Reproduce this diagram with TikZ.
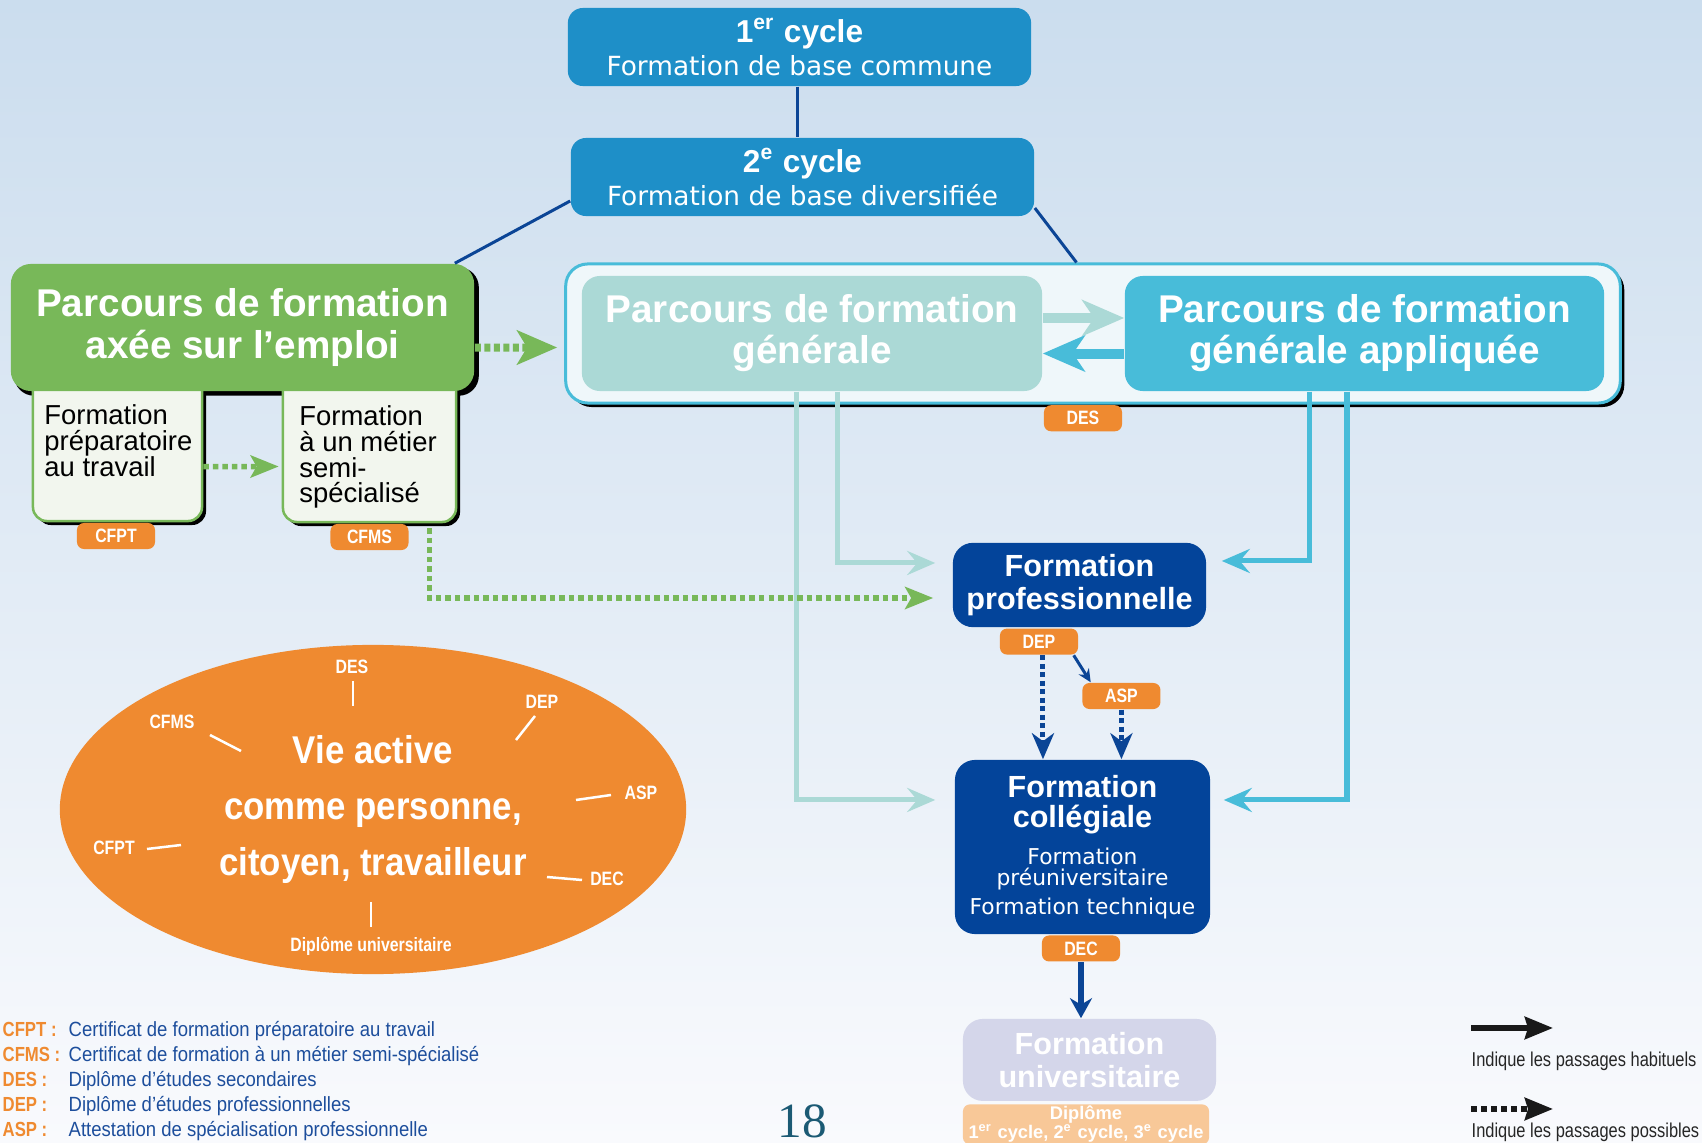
\documentclass[tikz,border=0pt]{standalone}
\usepackage{fontspec}
\setmainfont{Liberation Sans}
\newfontfamily\widefont{DejaVu Sans}
\newfontfamily\narrowfont{Liberation Sans}[FakeStretch=0.82]
\newfontfamily\semicond{Liberation Sans}[FakeStretch=0.9]
\newfontfamily\pagefont{Liberation Serif}
\usetikzlibrary{positioning, shapes.geometric, shadows, arrows.meta}

\definecolor{bgtop}{HTML}{CBDDEE}
\definecolor{bgbot}{HTML}{F9FAFD}
\definecolor{cyclec}{HTML}{1E8FC8}
\definecolor{navy}{HTML}{0B4596}
\definecolor{navybox}{HTML}{03449A}
\definecolor{grn}{HTML}{78B859}
\definecolor{grnpale}{HTML}{F2F6EE}
\definecolor{genc}{HTML}{ABD9D6}
\definecolor{applc}{HTML}{48BCD9}
\definecolor{contc}{HTML}{EFF7FA}
\definecolor{orng}{HTML}{EF8A30}
\definecolor{univc}{HTML}{D4D6EA}
\definecolor{diplc}{HTML}{F8C898}
\definecolor{legblue}{HTML}{1D4E9C}
\definecolor{pagec}{HTML}{1B5A74}

\pgfdeclarelayer{bg}
\pgfdeclarelayer{lower}
\pgfsetlayers{bg,lower,main}

\newcommand{\subtext}[2]{\parbox[c][1.49cm][t]{#1}{\vspace*{0.33cm}\raggedright #2}}
\newcommand{\ttl}{\normalfont\bfseries\fontsize{8.7}{9}\selectfont}

\begin{document}
\begin{tikzpicture}[x=0.01cm, y=-0.01cm, >=Stealth,
    line/.style={draw=navy, line width=0.03cm},
    spoke/.style={draw=white, line width=0.025cm},
    shadowed/.style={drop shadow={shadow xshift=0.04cm, shadow yshift=-0.04cm, fill=black, opacity=1}}]
    % Define styles for boxes, badges, flows and legend
    \tikzstyle{cyclebox} = [rectangle, rounded corners=0.15cm, fill=cyclec, text=white, minimum width=4.63cm, minimum height=0.78cm, inner sep=0pt, align=center, font={\widefont\fontsize{7.5}{9.4}\selectfont}]
    \tikzstyle{greenbox} = [rectangle, rounded corners=0.2cm, fill=grn, text=white, minimum width=4.63cm, minimum height=1.27cm, align=center, font={\bfseries\fontsize{11}{11.7}\selectfont}]
    \tikzstyle{subbox} = [rectangle, rounded corners=0.14cm, fill=grnpale, draw=grn, line width=0.025cm, inner sep=0pt, font={\fontsize{7.8}{7.3}\selectfont}, shadowed]
    \tikzstyle{pathbox} = [rectangle, rounded corners=0.18cm, text=white, minimum height=1.15cm, align=center, font={\bfseries\fontsize{11}{11.7}\selectfont}]
    \tikzstyle{darkbox} = [rectangle, rounded corners=0.2cm, fill=navybox, text=white, minimum width=2.53cm, align=center, font={\bfseries\fontsize{8.7}{9.2}\selectfont}]
    \tikzstyle{badge} = [rectangle, rounded corners=0.07cm, fill=orng, text=white, minimum width=0.78cm, minimum height=0.26cm, inner sep=0pt, font={\narrowfont\bfseries\fontsize{5.5}{6}\selectfont}]
    \tikzstyle{olabel} = [text=white, inner sep=0pt, font={\narrowfont\bfseries\fontsize{5.5}{6}\selectfont}]
    \tikzstyle{legabbr} = [anchor=base west, inner sep=0pt, text=orng, font={\narrowfont\bfseries\fontsize{5.8}{6}\selectfont}]
    \tikzstyle{legtext} = [anchor=base west, inner sep=0pt, font={\semicond\fontsize{5.85}{6}\selectfont}]
    \tikzstyle{paleflow} = [draw=genc, line width=0.05cm, -{Stealth[length=0.28cm, width=0.24cm, inset=0.1cm]}]
    \tikzstyle{blueflow} = [draw=applc, line width=0.05cm, -{Stealth[length=0.28cm, width=0.24cm, inset=0.1cm]}]
    \tikzstyle{bigflow} = [line width=0.1cm, -{Stealth[length=0.42cm, width=0.36cm, inset=0.12cm]}]
    \tikzstyle{greendots} = [draw=grn, line width=0.055cm, dash pattern=on 0.055cm off 0.04cm, -{Stealth[length=0.28cm, width=0.22cm, inset=0.06cm]}]
    \tikzstyle{navydots} = [draw=navy, line width=0.05cm, dash pattern=on 0.05cm off 0.035cm, -{Stealth[length=0.26cm, width=0.22cm, inset=0.08cm]}]

    % Background
    \useasboundingbox (0,0) rectangle (1702,1143);
    \clip (0,0) rectangle (1702,1143);
    \begin{pgfonlayer}{bg}
        \shade[top color=bgtop, bottom color=bgbot] (0,0) rectangle (1702,1143);
    \end{pgfonlayer}

    % Cycles
    \node[cyclebox] (cyc1) at (799.5,47) {{\normalfont\bfseries\fontsize{9}{9}\selectfont 1\textsuperscript{er} cycle}\\Formation de base commune};
    \node[cyclebox] (cyc2) at (802.5,177) {{\normalfont\bfseries\fontsize{9}{9}\selectfont 2\textsuperscript{e} cycle}\\Formation de base diversifiée};

    % Work-oriented path
    \node[greenbox] (emploi) at (242.5,327.5) {Parcours de formation\\axée sur l’emploi};
    \begin{pgfonlayer}{bg}
        \fill[black, rounded corners=0.2cm] ([shift={(0.04cm,-0.04cm)}]emploi.south west) rectangle ([shift={(0.04cm,-0.04cm)}]emploi.north east);
    \end{pgfonlayer}
    \begin{pgfonlayer}{lower}
        \node[subbox, minimum width=1.69cm] (prep) at (117.5,446.5) {\subtext{1.46cm}{Formation\\préparatoire\\au travail}};
        \node[subbox, minimum width=1.73cm] (metier) at (369.5,447.5) {\subtext{1.4cm}{Formation\\à un métier\\semi-\\spécialisé}};
    \end{pgfonlayer}
    \node[badge, below=0pt of prep, xshift=-0.015cm] (cfpt) {CFPT};
    \node[badge, below=0pt of metier] (cfms) {CFMS};

    % General paths
    \node[rectangle, rounded corners=0.22cm, fill=contc, draw=applc, line width=0.03cm, minimum width=10.54cm, minimum height=1.39cm, shadowed] (container) at (1093,333.5) {};
    \node[pathbox, fill=genc, minimum width=4.6cm] (gen) at (812,333.5) {Parcours de formation\\générale};
    \node[pathbox, fill=applc, minimum width=4.79cm] (appl) at (1364.5,333.5) {Parcours de formation\\générale appliquée};
    \node[badge, below=0pt of container, xshift=-0.1cm] (des) {DES};

    % Professional, college and university
    \node[darkbox, minimum height=0.84cm] (prof) at (1079.5,585) {Formation\\professionnelle};
    \node[badge, below=0pt of prof, xshift=-0.405cm] (dep) {DEP};
    \node[badge, below right=0.27cm and 0.03cm of dep] (asp) {ASP};
    \node[darkbox, minimum width=2.55cm, minimum height=1.74cm, font={\widefont\fontsize{6.2}{7.4}\selectfont}] (coll) at (1082.5,847) {{\ttl Formation}\\[1.1pt]{\ttl collégiale}\\[3.1pt]Formation\\[-1.4pt]préuniversitaire\\[0.9pt]Formation technique};
    \node[badge, below=0pt of coll, xshift=-0.015cm] (dec) {DEC};
    \node[darkbox, fill=univc, minimum height=0.82cm, below=0.56cm of dec, xshift=0.085cm] (univ) {Formation\\universitaire};
    \node[badge, fill=diplc, minimum width=2.46cm, minimum height=0.4cm, below=0.02cm of univ, xshift=-0.035cm, align=center, font={\bfseries\fontsize{5.2}{5.5}\selectfont}] (dipl) {Diplôme\\1\textsuperscript{er} cycle, 2\textsuperscript{e} cycle, 3\textsuperscript{e} cycle};

    % Links between the cycles
    \draw[line] ([xshift=-0.025cm]cyc1.south) -- ([xshift=-0.025cm]cyc1.south |- cyc2.north);
    \draw[line] ([yshift=-0.24cm]cyc2.west) -- ([xshift=-0.2cm]emploi.north east);
    \draw[line] ([yshift=-0.31cm]cyc2.east) -- ([xshift=-5.45cm]container.north east);

    % Flows
    \draw[bigflow, draw=genc] ([yshift=0.155cm]gen.east) -- ([yshift=0.155cm]appl.west);
    \draw[bigflow, draw=applc] ([yshift=-0.2cm]appl.west) -- ([yshift=-0.2cm]gen.east);
    \draw[greendots, line width=0.08cm, dash pattern=on 0.06cm off 0.035cm, -{Stealth[length=0.4cm, width=0.34cm, inset=0.1cm]}, shorten >=0.07cm] ([yshift=-0.2cm]emploi.east) -- ([yshift=-0.14cm]container.west);
    \draw[greendots, shorten >=0.03cm] ([yshift=-0.2cm]prep.east) -- ([yshift=-0.19cm]metier.west);
    \draw[paleflow, shorten >=0.19cm] ([xshift=-0.15cm]gen.south) |- ([yshift=0.47cm]coll.west);
    \draw[paleflow, shorten >=0.17cm] ([xshift=0.25cm]gen.south) |- ([yshift=0.22cm]prof.west);
    \draw[blueflow, shorten >=0.15cm] ([xshift=-0.545cm]appl.south) |- ([yshift=0.24cm]prof.east);
    \draw[blueflow, shorten >=0.13cm] ([xshift=-0.175cm]appl.south) |- ([yshift=0.47cm]coll.east);
    \draw[greendots, shorten >=0.19cm] ([xshift=0.6cm, yshift=-0.05cm]metier.south) |- ([yshift=-0.13cm]prof.west);
    \draw[navy, line width=0.03cm, -{Stealth[length=0.13cm, width=0.12cm]}] ([xshift=-0.05cm]dep.south east) -- ([xshift=0.09cm]asp.north west);
    \draw[navydots] ([xshift=0.04cm]dep.south) -- ([xshift=0.04cm]dep.south |- coll.north);
    \draw[navydots] (asp.south) -- (asp.south |- coll.north);
    \draw[navy, line width=0.06cm, -{Stealth[length=0.2cm, width=0.22cm]}] (dec.south) -- (dec.south |- univ.north);

    % Active life
    \node[ellipse, fill=orng, minimum width=6.26cm, minimum height=3.29cm, inner sep=0pt, align=center, text=white, font={\semicond\bfseries\fontsize{11}{16}\selectfont}] (vie) at (373,809.5) {Vie active\\comme personne,\\citoyen, travailleur};
    \node[olabel] (odes) at (352,667) {DES};
    \node[olabel] (odep) at (542,702) {DEP};
    \node[olabel] (ocfms) at (172,722) {CFMS};
    \node[olabel] (oasp) at (641,793) {ASP};
    \node[olabel] (ocfpt) at (114,848) {CFPT};
    \node[olabel] (odec) at (607,879) {DEC};
    \node[olabel] (odipl) at (371,946) {Diplôme universitaire};
    \draw[spoke] ([shift={(1,14)}]odes.center) -- ++(0,25);
    \draw[spoke] ([shift={(-7,14)}]odep.center) -- ++(-19,24);
    \draw[spoke] ([shift={(38,13)}]ocfms.center) -- ++(31,16);
    \draw[spoke] ([shift={(-65,7)}]oasp.center) -- ++(35,-5);
    \draw[spoke] ([shift={(33,1)}]ocfpt.center) -- ++(34,-4);
    \draw[spoke] ([shift={(-60,-2)}]odec.center) -- ++(35,3);
    \draw[spoke] ([shift={(0,-44)}]odipl.center) -- ++(0,25);

    % Legend
    \foreach \ab/\txt [count=\i] in {CFPT/Certificat de formation préparatoire au travail, CFMS/Certificat de formation à un métier semi-spécialisé, DES/Diplôme d’études secondaires, DEP/Diplôme d’études professionnelles, ASP/Attestation de spécialisation professionnelle}{
        \node[legabbr] (ab\i) at (2,{1036+25.2*(\i-1)}) {\ab\ :};
        \node[legtext, text=legblue] (txt\i) at (68,{1036+25.2*(\i-1)}) {\txt};
    }
    \node[legtext, font={\narrowfont\fontsize{5.7}{6}\selectfont}, text=black!85] (habtxt) at (1471,1066) {Indique les passages habituels};
    \node[legtext, font={\narrowfont\fontsize{5.7}{6}\selectfont}, text=black!85] (postxt) at (1471,1137) {Indique les passages possibles};
    \coordinate (hab1) at ([yshift=0.38cm]habtxt.base west);
    \coordinate (hab2) at ([xshift=0.82cm]hab1);
    \coordinate (pos1) at ([yshift=0.28cm]postxt.base west);
    \coordinate (pos2) at ([xshift=0.82cm]pos1);
    \draw[black!90, line width=0.06cm, -{Stealth[length=0.28cm, width=0.22cm, inset=0.03cm]}] (hab1) -- (hab2);
    \draw[black!90, line width=0.06cm, dash pattern=on 0.06cm off 0.04cm, -{Stealth[length=0.28cm, width=0.22cm, inset=0.03cm]}] (pos1) -- (pos2);

    % Page number
    \node[inner sep=0pt, font={\pagefont\fontsize{14}{14}\selectfont}, text=pagec, anchor=base] (pagenum) at (802,1137) {18};
\end{tikzpicture}
\end{document}
